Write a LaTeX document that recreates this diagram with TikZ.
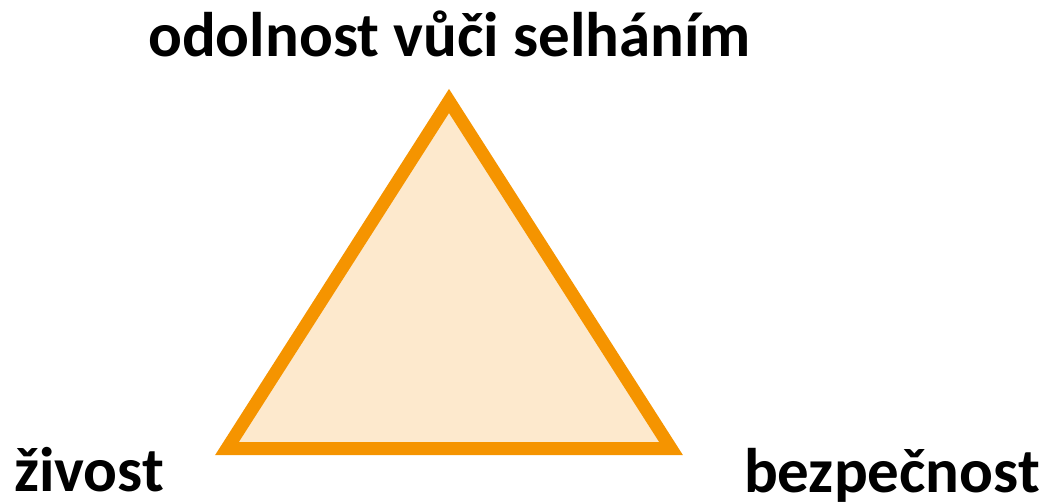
\documentclass[tikz,border=0pt]{standalone}
\usepackage{fontspec}
\setmainfont{Carlito}
\definecolor{triorange}{RGB}{245,148,0}
\definecolor{trifill}{RGB}{253,233,205}
\begin{document}
\begin{tikzpicture}[x=1pt,y=1pt,
  lbl/.style={font=\bfseries\fontsize{63}{70}\selectfont, inner sep=0pt, text=black}]
\useasboundingbox (0,0) rectangle (1046,501);
\coordinate (apex) at (449,400);
\coordinate (bl) at (227,52.5);
\coordinate (br) at (671,52.5);
\filldraw[draw=triorange, fill=trifill, line width=13pt, line join=miter] (apex) -- (bl) -- (br) -- cycle;
\node[lbl, anchor=base] (top) at (449.5,444) {odolnost vůči selháním};
\node[lbl, anchor=base west] (left) at (14,10) {živost};
\node[lbl, anchor=base east] (right) at (1040,9) {bezpečnost};
\end{tikzpicture}
\end{document}
